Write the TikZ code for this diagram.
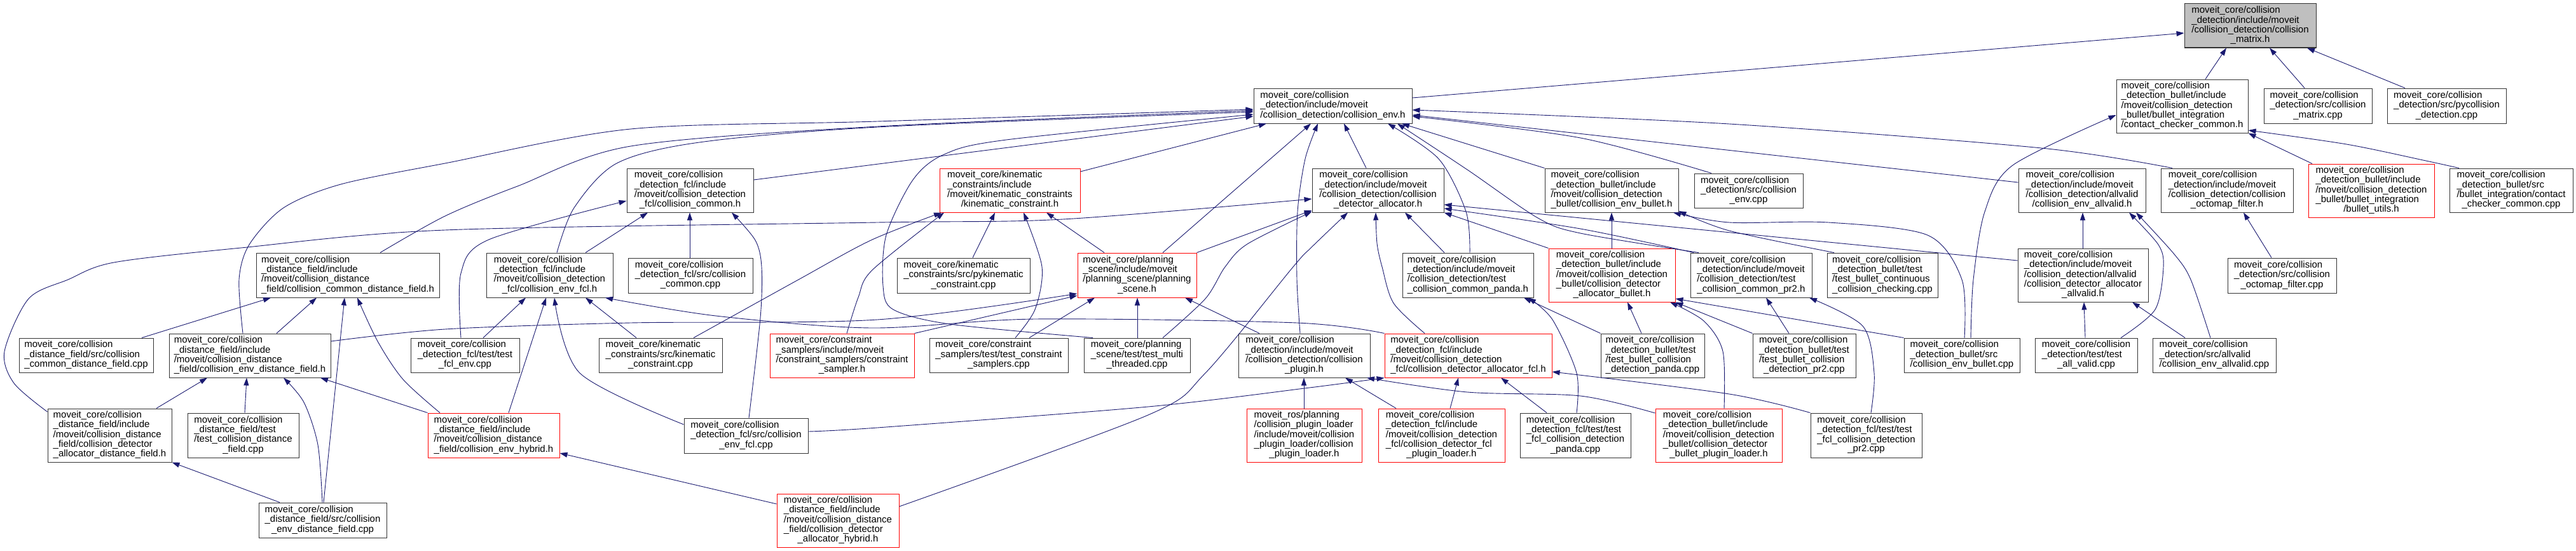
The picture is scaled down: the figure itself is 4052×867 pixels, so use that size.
\documentclass[tikz,border=0pt]{standalone}
\usepackage{fontspec}
\setmainfont{Liberation Sans}
\usetikzlibrary{arrows.meta}
\definecolor{edgeblue}{HTML}{191970}
\definecolor{rootgray}{HTML}{BFBFBF}
\newcommand{\lbl}[2]{\begin{tabular}{@{}l@{}}#1\\\multicolumn{1}{@{}c@{}}{#2}\end{tabular}}
\newcommand{\bx}[7]{\node[#2, minimum width={(#5-#3)*1pt}, minimum height={(#6-#4)*1pt}] (#1) at ({(#3+#5)/2},{(#4+#6)/2}) {#7};}
\begin{document}
\begin{tikzpicture}[x=1pt,y=-1pt,
  ed/.style={draw=edgeblue, line width=0.9pt, -{Triangle[length=12pt,width=8pt]}},
  nbox/.style={draw=black!80, line width=1pt, fill=white, inner sep=0pt, text=black, font=\fontsize{15}{14.8}\selectfont},
  rbox/.style={nbox, draw=red},
  gbox/.style={nbox, fill=rootgray}]
\fill[white] (0,0) rectangle (4052,867);
\path[use as bounding box] (0,0) rectangle (4052,867);
% ---- row 0/1
\bx{root}{gbox}{3436}{6}{3643}{75}{\lbl{moveit\_core/collision\\\_detection/include/moveit\\/collision\_detection/collision}{\_matrix.h}}
\bx{CE}{nbox}{1972}{139}{2221}{194}{\lbl{moveit\_core/collision\\\_detection/include/moveit}{/collision\_detection/collision\_env.h}}
\bx{CCH}{nbox}{3329}{125}{3536}{209}{\lbl{moveit\_core/collision\\\_detection\_bullet/include\\/moveit/collision\_detection\\\_bullet/bullet\_integration}{/contact\_checker\_common.h}}
\bx{CMcpp}{nbox}{3561}{139}{3731}{194}{\lbl{moveit\_core/collision\\\_detection/src/collision}{\_matrix.cpp}}
\bx{PYcpp}{nbox}{3755}{139}{3942}{194}{\lbl{moveit\_core/collision\\\_detection/src/pycollision}{\_detection.cpp}}
% ---- row 2
\bx{FCLCh}{nbox}{986}{265}{1185}{334}{\lbl{moveit\_core/collision\\\_detection\_fcl/include\\/moveit/collision\_detection}{\_fcl/collision\_common.h}}
\bx{KCh}{rbox}{1478}{265}{1699}{334}{\lbl{moveit\_core/kinematic\\\_constraints/include\\/moveit/kinematic\_constraints}{/kinematic\_constraint.h}}
\bx{CDA}{nbox}{2064}{265}{2271}{334}{\lbl{moveit\_core/collision\\\_detection/include/moveit\\/collision\_detection/collision}{\_detector\_allocator.h}}
\bx{CEBh}{nbox}{2430}{265}{2640}{334}{\lbl{moveit\_core/collision\\\_detection\_bullet/include\\/moveit/collision\_detection}{\_bullet/collision\_env\_bullet.h}}
\bx{CEcpp}{nbox}{2665}{273}{2836}{327}{\lbl{moveit\_core/collision\\\_detection/src/collision}{\_env.cpp}}
\bx{CEAVh}{nbox}{3175}{265}{3375}{334}{\lbl{moveit\_core/collision\\\_detection/include/moveit\\/collision\_detection/allvalid}{/collision\_env\_allvalid.h}}
\bx{COFh}{nbox}{3399}{265}{3607}{334}{\lbl{moveit\_core/collision\\\_detection/include/moveit\\/collision\_detection/collision}{\_octomap\_filter.h}}
\bx{BUh}{rbox}{3631}{258}{3829}{342}{\lbl{moveit\_core/collision\\\_detection\_bullet/include\\/moveit/collision\_detection\\\_bullet/bullet\_integration}{/bullet\_utils.h}}
\bx{CCCcpp}{nbox}{3853}{265}{4047}{334}{\lbl{moveit\_core/collision\\\_detection\_bullet/src\\/bullet\_integration/contact}{\_checker\_common.cpp}}
% ---- row 3
\bx{CCDFh}{nbox}{403}{398}{691}{468}{\lbl{moveit\_core/collision\\\_distance\_field/include\\/moveit/collision\_distance}{\_field/collision\_common\_distance\_field.h}}
\bx{CEFh}{nbox}{765}{398}{964}{468}{\lbl{moveit\_core/collision\\\_detection\_fcl/include\\/moveit/collision\_detection}{\_fcl/collision\_env\_fcl.h}}
\bx{FCLCcpp}{nbox}{988}{406}{1184}{461}{\lbl{moveit\_core/collision\\\_detection\_fcl/src/collision}{\_common.cpp}}
\bx{PKCcpp}{nbox}{1411}{406}{1620}{461}{\lbl{moveit\_core/kinematic\\\_constraints/src/pykinematic}{\_constraint.cpp}}
\bx{PSh}{rbox}{1695}{398}{1882}{468}{\lbl{moveit\_core/planning\\\_scene/include/moveit\\/planning\_scene/planning}{\_scene.h}}
\bx{TCCpanda}{nbox}{2206}{398}{2412}{468}{\lbl{moveit\_core/collision\\\_detection/include/moveit\\/collision\_detection/test}{\_collision\_common\_panda.h}}
\bx{CDABh}{rbox}{2436}{391}{2635}{475}{\lbl{moveit\_core/collision\\\_detection\_bullet/include\\/moveit/collision\_detection\\\_bullet/collision\_detector}{\_allocator\_bullet.h}}
\bx{TCCpr2}{nbox}{2659}{398}{2850}{468}{\lbl{moveit\_core/collision\\\_detection/include/moveit\\/collision\_detection/test}{\_collision\_common\_pr2.h}}
\bx{TBCCcpp}{nbox}{2874}{398}{3048}{468}{\lbl{moveit\_core/collision\\\_detection\_bullet/test\\/test\_bullet\_continuous}{\_collision\_checking.cpp}}
\bx{CDAAVh}{nbox}{3174}{391}{3379}{475}{\lbl{moveit\_core/collision\\\_detection/include/moveit\\/collision\_detection/allvalid\\/collision\_detector\_allocator}{\_allvalid.h}}
\bx{COFcpp}{nbox}{3504}{406}{3675}{461}{\lbl{moveit\_core/collision\\\_detection/src/collision}{\_octomap\_filter.cpp}}
% ---- row 4
\bx{CCDFcpp}{nbox}{30}{532}{241}{586}{\lbl{moveit\_core/collision\\\_distance\_field/src/collision}{\_common\_distance\_field.cpp}}
\bx{CEDFh}{nbox}{266}{525}{520}{594}{\lbl{moveit\_core/collision\\\_distance\_field/include\\/moveit/collision\_distance}{\_field/collision\_env\_distance\_field.h}}
\bx{TFEcpp}{nbox}{646}{532}{817}{586}{\lbl{moveit\_core/collision\\\_detection\_fcl/test/test}{\_fcl\_env.cpp}}
\bx{KCcpp}{nbox}{942}{532}{1136}{586}{\lbl{moveit\_core/kinematic\\\_constraints/src/kinematic}{\_constraint.cpp}}
\bx{CS}{rbox}{1211}{525}{1438}{594}{\lbl{moveit\_core/constraint\\\_samplers/include/moveit\\/constraint\_samplers/constraint}{\_sampler.h}}
\bx{TCScpp}{nbox}{1462}{532}{1680}{586}{\lbl{moveit\_core/constraint\\\_samplers/test/test\_constraint}{\_samplers.cpp}}
\bx{TMTcpp}{nbox}{1705}{532}{1872}{586}{\lbl{moveit\_core/planning\\\_scene/test/test\_multi}{\_threaded.cpp}}
\bx{CPh}{nbox}{1948}{525}{2155}{594}{\lbl{moveit\_core/collision\\\_detection/include/moveit\\/collision\_detection/collision}{\_plugin.h}}
\bx{CDAFh}{rbox}{2178}{525}{2441}{594}{\lbl{moveit\_core/collision\\\_detection\_fcl/include\\/moveit/collision\_detection}{\_fcl/collision\_detector\_allocator\_fcl.h}}
\bx{TBCDpanda}{nbox}{2518}{525}{2681}{594}{\lbl{moveit\_core/collision\\\_detection\_bullet/test\\/test\_bullet\_collision}{\_detection\_panda.cpp}}
\bx{TBCDpr2}{nbox}{2757}{525}{2919}{594}{\lbl{moveit\_core/collision\\\_detection\_bullet/test\\/test\_bullet\_collision}{\_detection\_pr2.cpp}}
\bx{CEBcpp}{nbox}{2995}{532}{3177}{586}{\lbl{moveit\_core/collision\\\_detection\_bullet/src}{/collision\_env\_bullet.cpp}}
\bx{TAVcpp}{nbox}{3201}{532}{3362}{586}{\lbl{moveit\_core/collision\\\_detection/test/test}{\_all\_valid.cpp}}
\bx{CEAVcpp}{nbox}{3386}{532}{3580}{586}{\lbl{moveit\_core/collision\\\_detection/src/allvalid}{/collision\_env\_allvalid.cpp}}
% ---- row 5
\bx{CDADFh}{nbox}{75}{643}{270}{727}{\lbl{moveit\_core/collision\\\_distance\_field/include\\/moveit/collision\_distance\\\_field/collision\_detector}{\_allocator\_distance\_field.h}}
\bx{TCDFcpp}{nbox}{295}{650}{470}{720}{\lbl{moveit\_core/collision\\\_distance\_field/test\\/test\_collision\_distance}{\_field.cpp}}
\bx{CEHh}{rbox}{673}{650}{880}{720}{\lbl{moveit\_core/collision\\\_distance\_field/include\\/moveit/collision\_distance}{\_field/collision\_env\_hybrid.h}}
\bx{CEFcpp}{nbox}{1076}{658}{1271}{713}{\lbl{moveit\_core/collision\\\_detection\_fcl/src/collision}{\_env\_fcl.cpp}}
\bx{CPLh}{rbox}{1961}{643}{2142}{727}{\lbl{moveit\_ros/planning\\/collision\_plugin\_loader\\/include/moveit/collision\\\_plugin\_loader/collision}{\_plugin\_loader.h}}
\bx{CDFPLh}{rbox}{2168}{643}{2367}{727}{\lbl{moveit\_core/collision\\\_detection\_fcl/include\\/moveit/collision\_detection\\\_fcl/collision\_detector\_fcl}{\_plugin\_loader.h}}
\bx{TFCDpanda}{nbox}{2391}{650}{2565}{720}{\lbl{moveit\_core/collision\\\_detection\_fcl/test/test\\\_fcl\_collision\_detection}{\_panda.cpp}}
\bx{CDBPLh}{rbox}{2604}{643}{2803}{727}{\lbl{moveit\_core/collision\\\_detection\_bullet/include\\/moveit/collision\_detection\\\_bullet/collision\_detector}{\_bullet\_plugin\_loader.h}}
\bx{TFCDpr2}{nbox}{2848}{650}{3023}{720}{\lbl{moveit\_core/collision\\\_detection\_fcl/test/test\\\_fcl\_collision\_detection}{\_pr2.cpp}}
% ---- row 6
\bx{CEDFcpp}{nbox}{407}{791}{608}{846}{\lbl{moveit\_core/collision\\\_distance\_field/src/collision}{\_env\_distance\_field.cpp}}
\bx{CDAHh}{rbox}{1222}{777}{1414}{861}{\lbl{moveit\_core/collision\\\_distance\_field/include\\/moveit/collision\_distance\\\_field/collision\_detector}{\_allocator\_hybrid.h}}
% ================= edges
% into root
\draw[ed] (CE.east |- 0,154) -- (root.west |- 0,52);
\draw[ed] (CCH.north -| 3469,0) -- (root.south -| 3502,0);
\draw[ed] (CMcpp.north -| 3625,0) -- (root.south -| 3570,0);
\draw[ed] (PYcpp.north -| 3783,0) -- (root.south -| 3629,0);
% into CE
\draw[ed] plot[smooth] coordinates {(CEDFh.north -| 382,0) (376,440) (392,385) (446,327) (536,290) (700,257) (992,203) (1380,191) (CE.west |- 0,172)};
\draw[ed] plot[smooth] coordinates {(CCDFh.north -| 598,0) (700,340) (814,293) (992,230) (1380,199) (CE.west |- 0,174)};
\draw[ed] plot[smooth] coordinates {(CEFh.north -| 876,0) (903,327) (970,257) (1100,224) (1380,200) (CE.west |- 0,176)};
\draw[ed] (FCLCh.east |- 0,283) -- (CE.west |- 0,183);
\draw[ed] plot[smooth] coordinates {(TMTcpp.north -| 1719,0) (1494,510) (1405,487) (1389,450) (1394,370) (1436,283) (1485,243) (1583,220) (CE.west |- 0,180)};
\draw[ed] (KCh.east |- 0,270) -- (CE.south -| 1992,0);
\draw[ed] (PSh.north -| 1829,0) -- (CE.south -| 2062,0);
\draw[ed] plot[smooth] coordinates {(CPh.north -| 2045,0) (2040,440) (2041,333) (2053,250) (CE.south -| 2073,0)};
\draw[ed] (CDA.north -| 2149,0) -- (CE.south -| 2114,0);
\draw[ed] plot[smooth] coordinates {(TCCpanda.north -| 2312,0) (2306,333) (2263,250) (CE.south -| 2183,0)};
\draw[ed] plot[smooth] coordinates {(TCCpr2.north -| 2672,0) (2486,367) (2419,343) (2308,267) (CE.south -| 2198,0)};
\draw[ed] (CEBh.north west) -- (CE.south -| 2205,0);
\draw[ed] plot[smooth] coordinates {(CEcpp.north -| 2692,0) (2486,217) (CE.east |- 0,183)};
\draw[ed] (CEAVh.west |- 0,287) -- (CE.east |- 0,181);
\draw[ed] plot[smooth] coordinates {(COFh.north -| 3417,0) (3211,233) (2720,195) (CE.east |- 0,173)};
% distance field
\draw[ed] (CCDFcpp.north -| 223,0) -- (CCDFh.south -| 426,0);
\draw[ed] (CEDFh.north -| 435,0) -- (CCDFh.south -| 498,0);
\draw[ed] (CEDFcpp.north -| 509,0) -- (CCDFh.south -| 542,0);
\draw[ed] plot[smooth] coordinates {(CEHh.north -| 692,0) (634,597) (594,537) (CCDFh.south -| 562,0)};
\draw[ed] (CDADFh.north -| 246,0) -- (CEDFh.south -| 326,0);
\draw[ed] (TCDFcpp.north -| 385,0) -- (CEDFh.south -| 388,0);
\draw[ed] plot[smooth] coordinates {(CEDFcpp.north -| 507,0) (500,700) (478,633) (CEDFh.south -| 446,0)};
\draw[ed] (CEHh.north west) -- (CEDFh.south -| 504,0);
\draw[ed] (CEDFcpp.north -| 440,0) -- (CDADFh.south east);
\draw[ed] plot[smooth] coordinates {(CDADFh.west |- 0,648) (22,603) (7,553) (45,470) (107,440) (179,413) (379,390) (700,362) (1380,350) (1672,345) (CDA.west |- 0,313)};
\draw[ed] plot[smooth] coordinates {(CEDFh.east |- 0,537) (700,518) (992,508) (1380,503) (PSh.west |- 0,462)};
% fcl
\draw[ed] plot[smooth] coordinates {(CDAFh.north west) (2040,508) (1628,502) (1370,516) (1126,497) (CEFh.south -| 952,0)};
\draw[ed] plot[smooth] coordinates {(CEFcpp.east |- 0,679) (1380,673) (1806,640) (2060,610) (CDAFh.south west)};
\draw[ed] plot[smooth] coordinates {(TFEcpp.north -| 725,0) (725,430) (769,377) (FCLCh.west |- 0,316)};
\draw[ed] (TFEcpp.north -| 760,0) -- (CEFh.south -| 827,0);
\draw[ed] (CEFh.north -| 921,0) -- (FCLCh.south -| 1019,0);
\draw[ed] (FCLCcpp.north -| 1085,0) -- (FCLCh.south -| 1085,0);
\draw[ed] plot[smooth] coordinates {(CEFcpp.north -| 1178,0) (1196,500) (1198,420) (1188,378) (FCLCh.south -| 1151,0)};
\draw[ed] (CEHh.north -| 800,0) -- (CEFh.south -| 859,0);
\draw[ed] plot[smooth] coordinates {(CEFcpp.west |- 0,668) (912,587) (CEFh.south -| 872,0)};
\draw[ed] (KCcpp.north -| 1001,0) -- (CEFh.south -| 921,0);
% kinematic constraints / planning scene
\draw[ed] plot[smooth] coordinates {(KCcpp.north -| 1091,0) (1256,440) (1370,378) (KCh.south -| 1481,0)};
\draw[ed] plot[smooth] coordinates {(CS.north -| 1332,0) (1350,468) (1372,425) (KCh.south -| 1485,0)};
\draw[ed] (PKCcpp.north -| 1530,0) -- (KCh.south -| 1565,0);
\draw[ed] plot[smooth] coordinates {(TCScpp.north -| 1597,0) (1628,487) (1639,420) (KCh.south -| 1610,0)};
\draw[ed] (PSh.north -| 1737,0) -- (KCh.south -| 1646,0);
\draw[ed] (CS.north east) -- (PSh.west |- 0,465);
\draw[ed] (TCScpp.north -| 1619,0) -- (PSh.south -| 1722,0);
\draw[ed] (TMTcpp.north -| 1789,0) -- (PSh.south -| 1789,0);
\draw[ed] (CPh.north -| 1981,0) -- (PSh.south -| 1864,0);
% into CDA
\draw[ed] (PSh.north east) -- (CDA.west |- 0,331);
\draw[ed] plot[smooth] coordinates {(TMTcpp.north -| 1829,0) (1896,470) (1927,420) (1962,384) (CDA.west |- 0,333)};
\draw[ed] plot[smooth] coordinates {(CDAHh.east |- 0,797) (1806,653) (1896,587) (2034,420) (2062,390) (CDA.south -| 2120,0)};
\draw[ed] (CDAHh.west |- 0,793) -- (CEHh.east |- 0,713);
\draw[ed] plot[smooth] coordinates {(CDAFh.north -| 2241,0) (2192,477) (2174,420) (2166,383) (CDA.south -| 2164,0)};
\draw[ed] (TCCpanda.north -| 2272,0) -- (CDA.south -| 2210,0);
\draw[ed] (CDABh.north west) -- (CDA.south east);
\draw[ed] (CDAAVh.west |- 0,410) -- (CDA.east |- 0,322);
\draw[ed] plot[smooth] coordinates {(TCCpr2.north -| 2664,0) (2486,360) (CDA.east |- 0,328)};
% bullet
\draw[ed] (CDABh.north -| 2535,0) -- (CEBh.south -| 2535,0);
\draw[ed] plot[smooth] coordinates {(CEBcpp.north -| 3090,0) (3086,440) (3032,370) (2876,350) (2720,350) (CEBh.south -| 2632,0)};
\draw[ed] plot[smooth] coordinates {(TBCCcpp.north -| 2885,0) (2720,363) (CEBh.east |- 0,332)};
\draw[ed] plot[smooth] coordinates {(CEBcpp.north -| 3100,0) (3104,440) (3122,333) (3166,260) (CCH.west |- 0,181)};
\draw[ed] (TBCDpanda.north -| 2582,0) -- (CDABh.south -| 2560,0);
\draw[ed] (CEBcpp.north west) -- (CDABh.east |- 0,470);
\draw[ed] (TBCDpr2.north west) -- (CDABh.south east);
\draw[ed] plot[smooth] coordinates {(CDBPLh.north -| 2712,0) (2710,553) (2680,505) (CDABh.south -| 2627,0)};
\draw[ed] (TBCDpanda.north west) -- (TCCpanda.south -| 2397,0);
\draw[ed] plot[smooth] coordinates {(TFCDpanda.north -| 2480,0) (2480,587) (2442,503) (TCCpanda.south -| 2404,0)};
\draw[ed] (TBCDpr2.north -| 2814,0) -- (TCCpr2.south -| 2778,0);
\draw[ed] plot[smooth] coordinates {(TFCDpr2.north -| 2943,0) (2948,587) (2930,513) (TCCpr2.south -| 2846,0)};
\draw[ed] (CDFPLh.north -| 2281,0) -- (CDAFh.south -| 2294,0);
\draw[ed] (TFCDpanda.north -| 2433,0) -- (CDAFh.south -| 2361,0);
\draw[ed] plot[smooth] coordinates {(TFCDpr2.north west) (2720,620) (CDAFh.east |- 0,585)};
\draw[ed] (CPLh.north -| 2051,0) -- (CPh.south -| 2051,0);
\draw[ed] (CDFPLh.north -| 2196,0) -- (CPh.south -| 2116,0);
\draw[ed] plot[smooth] coordinates {(CDBPLh.west |- 0,650) (2486,623) (2308,617) (CPh.south -| 2150,0)};
% allvalid / octomap / bullet utils
\draw[ed] (CDAAVh.north -| 3276,0) -- (CEAVh.south -| 3276,0);
\draw[ed] plot[smooth] coordinates {(TAVcpp.north -| 3336,0) (3390,487) (3403,420) (3395,385) (CEAVh.south -| 3349,0)};
\draw[ed] plot[smooth] coordinates {(CEAVcpp.north -| 3477,0) (3446,440) (3420,400) (CEAVh.south -| 3360,0)};
\draw[ed] (TAVcpp.north -| 3280,0) -- (CDAAVh.south -| 3278,0);
\draw[ed] (CEAVcpp.north -| 3437,0) -- (CDAAVh.south -| 3354,0);
\draw[ed] (COFcpp.north -| 3573,0) -- (COFh.south -| 3529,0);
\draw[ed] (BUh.north -| 3637,0) -- (CCH.south east);
\draw[ed] plot[smooth] coordinates {(CCCcpp.north -| 3868,0) (3816,253) (3691,227) (CCH.east |- 0,205)};
\end{tikzpicture}
\end{document}
